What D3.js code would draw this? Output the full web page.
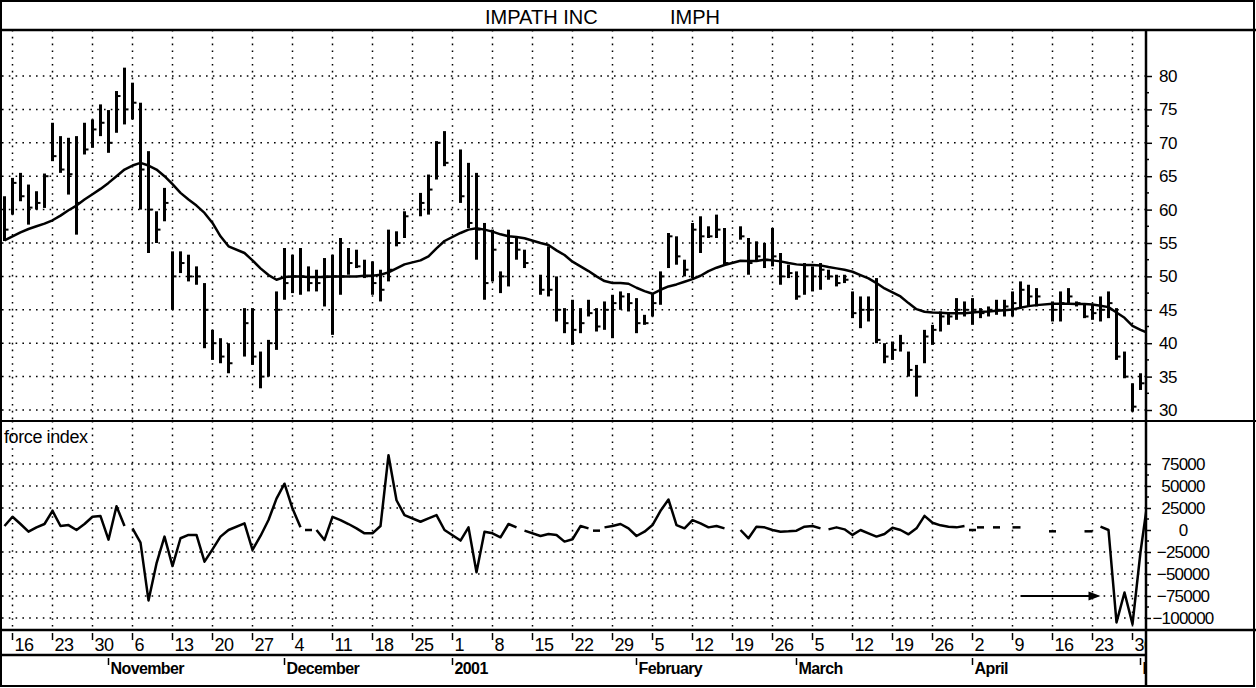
<!DOCTYPE html>
<html><head><meta charset="utf-8">
<script src="https://cdn.jsdelivr.net/npm/d3@7"></script>
<style>
html,body{margin:0;padding:0;background:#fff;}
svg{display:block;}
text{font-family:"Liberation Sans",Arial,sans-serif;fill:#000;}
</style></head><body>
<svg id="c" width="1256" height="688"></svg>
<script>
// ---------------- DATA ----------------
const titleLeft = "IMPATH INC";
const titleRight = "IMPH";
const panelLabel = "force index";
const startDate = "2000-10-13";
const endDate = "2001-05-02";
const holidays = ["2000-11-23","2000-12-25","2001-01-01","2001-01-15","2001-02-19","2001-04-13"];
const monthLabels = ["November","December","2001","February","March","April","May"];
const priceTicks = [30,35,40,45,50,55,60,65,70,75,80];
const forceTicks = [75000,50000,25000,0,-25000,-50000,-75000,-100000];

// one value per weekday, week by week (Mon..Fri); null = no bar
const high = [62,
 64.75,65.5,63.75,62.75,65.4,
 73,71,70.75,71,73,
 73.5,75.75,74.9,77.75,81.25,
 79,76,68.75,59.75,63.25,
 53.75,53.75,53.25,51.5,49,
 42,40.75,40,null,45.25,
 45.25,38.75,40.5,47.75,54.25,
 53.25,54.25,51.5,51,52.75,
 53.25,55.75,54.25,54,52.5,
 52.25,51,57,56.75,59.75,
 null,62.5,65.25,70.25,71.75,
 null,69,67,65.5,58,
 57,50.75,57,55.75,54,
 null,50.25,54.5,50,45.25,
 46.5,45.25,46.5,45.25,46.25,
 47.25,47.75,47.5,46.75,44.25,
 47.5,50.75,56.5,56,52.5,
 58,59,57.5,59.25,57.25,
 null,57.5,55.75,55.25,55,
 57.25,53.5,51.75,50.75,52,
 51.5,52,51,50.25,50.25,
 47.75,47,47,49.75,40,
 40.25,41.25,38.75,36.75,42,
 42.75,44.75,44.6,46.75,46.25,
 46.75,45.25,45.5,46.5,46.5,
 47.75,49.25,48.75,48.25,null,
 46.25,47.75,48.25,46.25,46,
 45.75,47,47.75,45.25,38.75,
 34,35.5,null];
const low = [55.3,
 59.25,61.25,57.75,60,60.25,
 67.25,65.5,62.25,56.25,68.25,
 69.25,71,68.5,71.5,72.75,
 73.5,60,53.5,55,58.25,
 45,50.5,49.25,48.75,39.25,
 37.5,37,35.5,null,38,
 36.75,33.25,35,39,46.5,
 47.5,47.25,47.75,47.75,45.5,
 41.25,47.25,50.25,51.25,49.75,
 47.25,46.25,49.25,54.5,55.75,
 null,59,59.25,64.5,66.5,
 null,61,57.25,52.5,46.5,
 49.25,47.5,48.5,52.5,51.25,
 null,47.25,47,43.25,41.5,
 39.75,41.5,44,41.75,42,
 40.75,45,44.75,41.5,42.75,
 44,45.75,51.25,51.75,50,
 49.75,53.5,55.75,55.75,51.75,
 null,55.5,50.25,52.25,51.25,
 51.5,48.75,49.75,46.5,47.25,
 47.75,48,49.5,48.5,49,
 43.75,42.25,43.25,40,37,
 37.5,38.75,35,32,37,
 39.75,41.75,42.75,43.5,44,
 42.75,43.75,44,44.25,44,
 44,45.25,45.5,45.5,null,
 43.25,43.25,46,45.5,43.75,
 43.5,43.25,43.75,37.5,34.75,
 29.75,33,null];
const close = [57,
 64,62,60.3,61,65,
 68,66,65.3,61,69,
 72,73,70,77,75,
 76,66,60,57,61,
 50,52,50,50,45,
 40,38,37,null,43,
 38,35,40,45,49,
 50,50,49,49,50,
 50,50,52,51.5,50,
 49,48,51,55,59,
 null,61,63,70,67,
 null,62,58,57,49,
 54,50,55,54,52,
 null,48,48,45,43,
 42,43,44.5,42.5,45,
 46,47,46,43,43,
 46,50,56,53,51,
 57,56,56,57,52,
 null,56,52,53,52.5,
 53,50,50.5,47,50,
 50,51,50,49,49.5,
 44.5,45,45,40.5,38,
 39,40,36,35,41,
 42,44,44,45,45,
 45,44.5,45,45,45.5,
 46,48,47,47,null,
 45,46,47,46,44,
 44.5,45,46,38,35,
 30.5,34,null];
const ma = [55.4,
 56,56.6,57.1,57.5,57.9,
 58.4,59.1,59.9,60.6,61.5,
 62.3,63.1,64,65,66,
 66.6,67,66.6,66,65,
 63.8,62.5,61.5,60.6,59.5,
 58,56,54.5,null,53.5,
 52.4,51.2,50.2,49.5,49.9,
 50,50,49.9,49.9,49.9,
 50,50,50,50,50.1,
 50.1,50.25,50.6,51.2,51.8,
 null,52.4,53,54.2,55.3,
 null,56.5,57,57.2,57,
 56.7,56.3,56,55.9,55.7,
 null,55,54.7,53.9,53.2,
 52.2,51.5,50.8,50,49.3,
 49,49,48.9,48.3,47.8,
 47.4,48,48.5,48.8,49.2,
 49.6,50.1,50.8,51.3,51.7,
 null,52.35,52.3,52.3,52.5,
 52.4,52.25,52,51.8,51.7,
 51.7,51.65,51.4,51.2,51,
 50.7,50.2,49.7,49,48.2,
 47.6,47,46,45.1,44.7,
 44.6,44.55,44.5,44.5,44.5,
 44.6,44.7,44.75,44.85,44.95,
 45.05,45.3,45.55,45.7,null,
 45.9,45.9,45.9,45.85,45.85,
 45.8,45.6,45.4,44.6,43.8,
 42.6,42,41.5];
const force = [4500,
 15000,6800,-1900,3000,6800,
 21800,4500,5600,0,6800,
 15000,15800,-11000,27000,4500,
 1900,-14300,-80000,-38000,-7500,
 -41000,-9400,-5600,-5600,-36000,
 -22000,-7500,0,null,7500,
 -22500,-6800,11300,35700,52600,
 24400,3000,0,0,-11300,
 15000,11300,6800,1900,-3800,
 -3800,4500,85000,33800,16900,
 null,9400,13200,16900,0,
 null,-12000,3000,-48000,-1900,
 -3800,-8300,6800,3000,-750,
 null,-6800,-4500,-5600,-13200,
 -10500,4500,1900,-750,3000,
 4500,6800,1900,-6800,-1900,
 5600,21800,34600,5600,1900,
 11300,7500,3000,4500,1900,
 null,0,-9400,3800,3000,
 0,-1900,-1500,-750,3800,
 4500,1900,750,3000,750,
 -5600,0,-3800,-7500,-4500,
 2600,0,-4900,1900,16000,
 8300,5300,3800,3000,4500,
 0,3000,null,3000,null,
 3000,3000,null,null,null,
 -1500,null,null,null,-1500,
 -1500,3800,0,-105000,-71000,
 -107000,-25000,40000];
// dates where the force-index line is broken before the point
const forceBreaks = ["2000-11-06","2000-12-06","2000-12-07","2001-01-12","2001-01-25","2001-01-26",
 "2001-02-20","2001-03-07","2001-04-02","2001-04-03","2001-04-24"];

// ---------------- CHART ----------------
const W = 1256, H = 688;
const L = 2, R = 1146, TOP = 30, PB = 421, FB = 630, DB = 655, BOT = 686;
const svg = d3.select("#c");
svg.append("rect").attr("width", W).attr("height", H).attr("fill", "#fff");

const parse = d3.timeParse("%Y-%m-%d"), fmt = d3.timeFormat("%Y-%m-%d");
const days = d3.timeDay.range(parse(startDate), d3.timeDay.offset(parse(endDate), 1))
  .filter(d => d.getDay() !== 0 && d.getDay() !== 6);
const keys = days.map(fmt);
const rows = keys.map((k, i) => ({key: k, date: days[i], h: high[i], l: low[i], c: close[i],
  ma: ma[i], f: force[i], hol: holidays.includes(k)}));

const x = d3.scaleBand().domain(keys).range([0.5, 0.5 + 8 * keys.length]);
const cx = k => x(k) + x.bandwidth() / 2;
const yP = d3.scaleLinear().domain([30, 80]).range([410, 76]);
const yF = d3.scaleLinear().domain([-100000, 75000]).range([618, 464]);

const defs = svg.append("defs");
defs.append("clipPath").attr("id", "cp").append("rect").attr("x", L).attr("y", TOP + 1).attr("width", R - L).attr("height", PB - TOP - 1);
defs.append("clipPath").attr("id", "cf").append("rect").attr("x", L).attr("y", PB + 1).attr("width", R - L).attr("height", FB - PB - 1);
defs.append("clipPath").attr("id", "cd").append("rect").attr("x", 0).attr("y", FB).attr("width", R - 1).attr("height", BOT - FB);

const mondays = rows.filter(r => r.date.getDay() === 1);
const dot = "1.6,5.2";

// grid - price
const gP = svg.append("g").attr("clip-path", "url(#cp)");
gP.selectAll("line.vg").data(mondays).join("line")
  .attr("x1", r => cx(r.key)).attr("x2", r => cx(r.key)).attr("y1", TOP).attr("y2", PB)
  .attr("stroke", "#000").attr("stroke-width", 1.5).attr("stroke-dasharray", dot);
gP.selectAll("line.hg").data(priceTicks).join("line")
  .attr("x1", L).attr("x2", R).attr("y1", d => yP(d)).attr("y2", d => yP(d))
  .attr("stroke", "#000").attr("stroke-width", 1.5).attr("stroke-dasharray", dot);

// price bars
const bars = rows.filter(r => r.h != null);
gP.selectAll("line.hl").data(bars).join("line")
  .attr("x1", r => cx(r.key)).attr("x2", r => cx(r.key))
  .attr("y1", r => yP(r.h)).attr("y2", r => yP(r.l))
  .attr("stroke", "#000").attr("stroke-width", 3);
gP.selectAll("line.cl").data(bars).join("line")
  .attr("x1", r => cx(r.key)).attr("x2", r => cx(r.key) + 4)
  .attr("y1", r => yP(r.c)).attr("y2", r => yP(r.c))
  .attr("stroke", "#000").attr("stroke-width", 2);
// moving average
gP.append("path").datum(rows.filter(r => r.ma != null))
  .attr("d", d3.line().x(r => cx(r.key)).y(r => yP(r.ma)))
  .attr("fill", "none").attr("stroke", "#000").attr("stroke-width", 2.5).attr("stroke-linejoin", "round");

// grid - force
const gF = svg.append("g").attr("clip-path", "url(#cf)");
gF.selectAll("line.vg").data(mondays).join("line")
  .attr("x1", r => cx(r.key)).attr("x2", r => cx(r.key)).attr("y1", PB).attr("y2", FB)
  .attr("stroke", "#000").attr("stroke-width", 1.5).attr("stroke-dasharray", dot);
gF.selectAll("line.hg").data(forceTicks.filter(d => d !== 0)).join("line")
  .attr("x1", L).attr("x2", R).attr("y1", d => yF(d)).attr("y2", d => yF(d))
  .attr("stroke", "#000").attr("stroke-width", 1.5).attr("stroke-dasharray", dot);

// force segments
const fr = rows.filter(r => !r.hol);
const segs = []; let cur = [];
fr.forEach(r => {
  if (r.f == null) { if (cur.length) segs.push(cur); cur = []; return; }
  if (forceBreaks.includes(r.key) && cur.length) { segs.push(cur); cur = []; }
  cur.push(r);
});
if (cur.length) segs.push(cur);
const fl = d3.line().x(r => cx(r.key)).y(r => yF(r.f));
segs.forEach(s => {
  if (s.length > 1) {
    gF.append("path").datum(s).attr("d", fl).attr("fill", "none").attr("stroke", "#000")
      .attr("stroke-width", 2.5).attr("stroke-linejoin", "round");
  } else {
    const r = s[0];
    gF.append("line").attr("x1", cx(r.key) - 3.5).attr("x2", cx(r.key) + 3.5)
      .attr("y1", yF(r.f)).attr("y2", yF(r.f)).attr("stroke", "#000").attr("stroke-width", 2.5);
  }
});
// arrow
const arrowFrom = rows.find(r => r.key === "2001-04-10"), arrowTo = rows.find(r => r.key === "2001-04-19");
const ay = yF(-75000);
gF.append("line").attr("x1", cx(arrowFrom.key)).attr("x2", cx(arrowTo.key) + 16).attr("y1", ay).attr("y2", ay)
  .attr("stroke", "#000").attr("stroke-width", 2.2);
gF.append("path").attr("d", `M${cx(arrowTo.key) + 24},${ay} l-12,-4.5 l0,9 Z`).attr("fill", "#000");

// panel label
svg.append("text").attr("x", 4).attr("y", 443).attr("font-size", 18).attr("letter-spacing", "-0.4")
  .text(panelLabel);

// right axes
const axP = d3.axisRight(yP).tickValues(priceTicks).tickSize(6).tickPadding(7).tickFormat(d3.format("d"));
const gAP = svg.append("g").attr("transform", `translate(${R},0)`).call(axP);
gAP.select(".domain").remove();
gAP.selectAll("line").attr("stroke-width", 1.5);
gAP.selectAll("text").attr("font-size", 17).attr("font-family", "Liberation Sans, Arial, sans-serif").attr("letter-spacing", "-0.5");
const minorP = d3.range(30, 82.5, 2.5).filter(v => !priceTicks.includes(v));
svg.append("g").selectAll("line").data(minorP).join("line")
  .attr("x1", R).attr("x2", R + 3).attr("y1", d => yP(d)).attr("y2", d => yP(d)).attr("stroke", "#000").attr("stroke-width", 1.5);

const axF = d3.axisRight(yF).tickValues(forceTicks).tickSize(5).tickPadding(0).tickFormat(d3.format("d"));
const gAF = svg.append("g").attr("transform", `translate(${R},0)`).call(axF);
gAF.select(".domain").remove();
gAF.selectAll("line").attr("stroke-width", 1.5);
gAF.selectAll("text").attr("font-size", 17).attr("font-family", "Liberation Sans, Arial, sans-serif")
  .attr("letter-spacing", "-0.8").attr("text-anchor", "middle").attr("x", 37);
const minorF = d3.range(-100000, 87500, 12500).filter(v => !forceTicks.includes(v));
svg.append("g").selectAll("line").data(minorF).join("line")
  .attr("x1", R).attr("x2", R + 3).attr("y1", d => yF(d)).attr("y2", d => yF(d)).attr("stroke", "#000").attr("stroke-width", 1.5);

// date axis
const gD = svg.append("g").attr("clip-path", "url(#cd)");
const axD = d3.axisBottom(x).tickValues(mondays.map(r => r.key)).tickSize(7).tickPadding(0)
  .tickFormat(k => d3.timeFormat("%-d")(parse(k)));
const gAD = gD.append("g").attr("transform", `translate(0,${FB + 3})`).call(axD);
gAD.select(".domain").remove();
gAD.selectAll("line").attr("stroke-width", 1.5);
gAD.selectAll("text").attr("font-size", 18).attr("font-family", "Liberation Sans, Arial, sans-serif")
  .attr("text-anchor", "start").attr("x", 2).attr("y", 5).attr("letter-spacing", "-0.5");

const monthStarts = rows.filter((r, i) => i > 0 && r.date.getMonth() !== rows[i - 1].date.getMonth());
const axM = d3.axisBottom(x).tickValues(monthStarts.map(r => r.key)).tickSize(7).tickPadding(0)
  .tickFormat((k, i) => monthLabels[i]);
const gAM = gD.append("g").attr("transform", `translate(0,${DB + 3})`).call(axM);
gAM.select(".domain").remove();
gAM.selectAll("line").attr("stroke-width", 1.5);
gAM.selectAll("text").attr("font-size", 16).attr("font-weight", "bold").attr("font-family", "Liberation Sans, Arial, sans-serif")
  .attr("text-anchor", "start").attr("x", 2).attr("y", 5).attr("letter-spacing", "-0.6");

// frame
const frame = svg.append("g").attr("stroke", "#000").attr("fill", "none");
frame.append("rect").attr("x", 1).attr("y", 1).attr("width", W - 3).attr("height", BOT - 1).attr("stroke-width", 2);
frame.append("line").attr("x1", 0).attr("x2", W).attr("y1", TOP).attr("y2", TOP).attr("stroke-width", 2.5);
frame.append("line").attr("x1", 0).attr("x2", W).attr("y1", PB).attr("y2", PB).attr("stroke-width", 2);
frame.append("line").attr("x1", 0).attr("x2", W).attr("y1", FB).attr("y2", FB).attr("stroke-width", 2.5);
frame.append("line").attr("x1", 0).attr("x2", R).attr("y1", DB).attr("y2", DB).attr("stroke-width", 2.5);
frame.append("line").attr("x1", R).attr("x2", R).attr("y1", TOP).attr("y2", BOT).attr("stroke-width", 2.5);

// title
svg.append("text").attr("x", 485).attr("y", 24).attr("font-size", 20).text(titleLeft);
svg.append("text").attr("x", 670).attr("y", 24).attr("font-size", 20).text(titleRight);
</script>
</body></html>
